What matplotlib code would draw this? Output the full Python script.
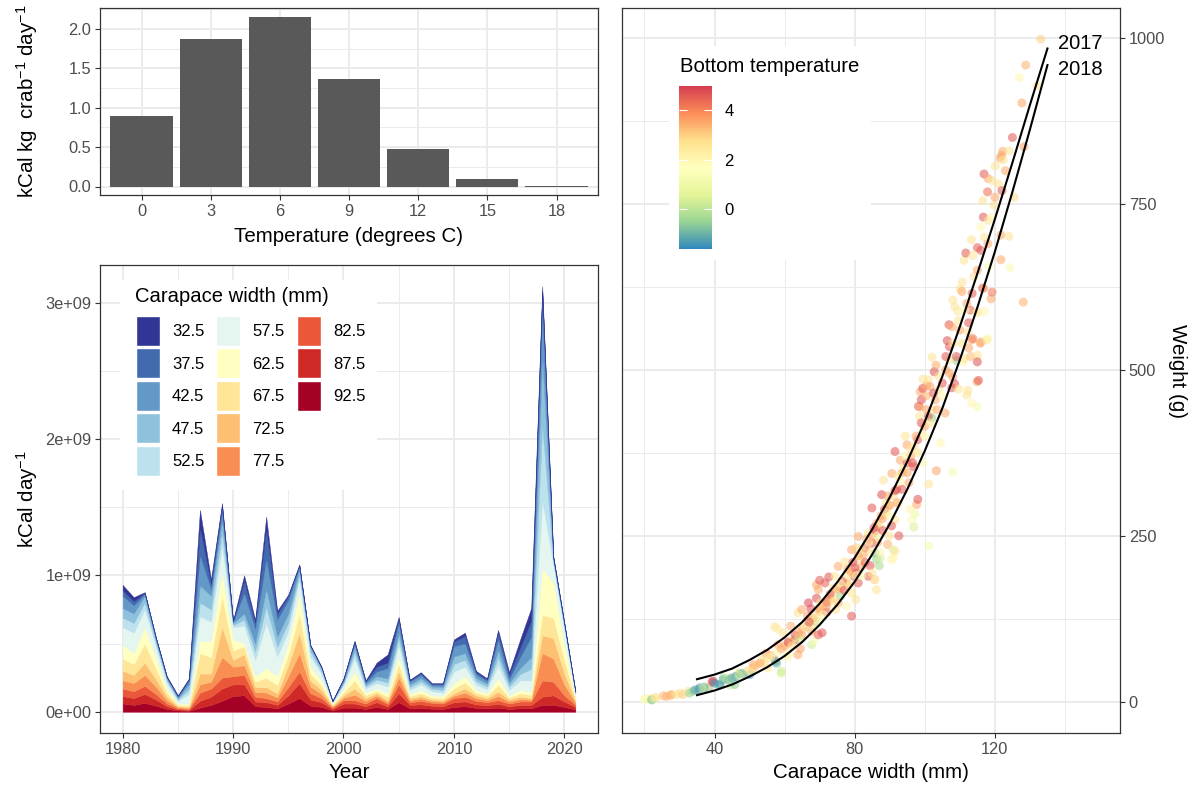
import numpy as np
import matplotlib
matplotlib.use("Agg")
import matplotlib.pyplot as plt
from matplotlib.colors import LinearSegmentedColormap, Normalize
from matplotlib.cm import ScalarMappable
from matplotlib.patches import Patch, Rectangle

plt.rcParams['font.family'] = ['Liberation Sans', 'DejaVu Sans']
plt.rcParams['mathtext.fontset'] = 'custom'
plt.rcParams['mathtext.rm'] = 'Liberation Sans'
plt.rcParams['mathtext.it'] = 'Liberation Sans:italic'
plt.rcParams['mathtext.bf'] = 'Liberation Sans:bold'

W, H = 1194, 787

# ---------------- data: energy per kg by temperature ----------------
temp_bins = [0, 3, 6, 9, 12, 15, 18]
kcal_per_kg = [0.90, 1.87, 2.15, 1.37, 0.48, 0.09, 0.01]

# ---------------- data: kCal/day by size class (units of 1e9) ----------------
years = list(range(1980, 2022))
size_labels = ['32.5', '37.5', '42.5', '47.5', '52.5', '57.5', '62.5',
               '67.5', '72.5', '77.5', '82.5', '87.5', '92.5']

kcal_925 = [.06, .05, .065, .045, .02, .009, .007, .03, .05, .08,
            .115, .12, .04, .035, .025, .06, .10, .045, .035, .01,
            .03, .03, .02, .035, .02, .07, .025, .028, .022, .02,
            .035, .04, .028, .025, .03, .02, .025, .025, .05, .05,
            .035, .017]
kcal_875 = [.055, .05, .065, .045, .02, .008, .007, .05, .06, .09,
            .085, .08, .035, .035, .025, .06, .11, .045, .035, .01,
            .03, .03, .02, .035, .018, .065, .025, .026, .022, .02,
            .035, .035, .026, .023, .028, .02, .025, .025, .06, .07,
            .04, .017]
kcal_825 = [.055, .05, .06, .04, .02, .008, .006, .06, .06, .08,
            .06, .07, .035, .03, .025, .06, .085, .045, .03, .01,
            .025, .025, .02, .03, .018, .065, .02, .026, .021, .02,
            .03, .035, .026, .022, .027, .02, .025, .025, .12, .10,
            .045, .016]
kcal_775 = [.06, .06, .08, .055, .025, .008, .008, .06, .05, .15,
            .07, .07, .035, .04, .03, .08, .135, .05, .03, .008,
            .018, .04, .02, .018, .015, .05, .015, .018, .013, .013,
            .018, .03, .02, .015, .031, .015, .018, .013, .20, .17,
            .08, .015]
kcal_725 = [.07, .06, .09, .055, .025, .007, .007, .08, .06, .22,
            .05, .08, .035, .04, .03, .08, .15, .045, .03, .007,
            .017, .045, .02, .017, .014, .045, .015, .017, .012, .012,
            .017, .03, .02, .015, .031, .015, .017, .012, .13, .15,
            .08, .015]
kcal_675 = [.09, .08, .14, .08, .03, .01, .012, .15, .12, .23,
            .07, .06, .04, .07, .06, .08, .14, .05, .035, .008,
            .022, .06, .02, .018, .025, .055, .015, .022, .015, .015,
            .037, .045, .02, .018, .049, .015, .025, .023, .15, .15,
            .10, .015]
kcal_625 = [.10, .08, .12, .08, .03, .01, .013, .09, .12, .17,
            .08, .02, .04, .07, .065, .08, .15, .05, .035, .007,
            .023, .065, .02, .017, .025, .055, .015, .023, .015, .015,
            .038, .045, .02, .017, .049, .015, .025, .024, .34, .26,
            .12, .015]
kcal_575 = [.13, .15, .13, .08, .04, .02, .07, .18, .14, .20,
            .09, .13, .12, .33, .145, .09, .10, .075, .05, .01,
            .03, .095, .03, .04, .05, .085, .03, .04, .03, .025,
            .085, .07, .04, .03, .095, .04, .07, .083, .50, .13,
            .10, .02]
kcal_525 = [.07, .07, .05, .025, .018, .01, .035, .10, .09, .09,
            .015, .045, .06, .12, .07, .065, .035, .035, .02, .003,
            .013, .04, .015, .025, .03, .045, .02, .022, .018, .02,
            .055, .05, .025, .02, .055, .025, .045, .085, .55, .02,
            .02, .008]
kcal_475 = [.07, .07, .05, .025, .017, .01, .035, .125, .10, .09,
            .015, .045, .06, .13, .075, .065, .035, .03, .02, .003,
            .012, .04, .015, .025, .03, .045, .02, .023, .017, .02,
            .055, .05, .025, .02, .055, .025, .045, .085, .50, .02,
            .02, .007]
kcal_425 = [.09, .06, .015, .01, .007, .01, .025, .225, .05, .07,
            .01, .15, .11, .22, .125, .10, .025, .012, .005, .002,
            .015, .03, .015, .035, .075, .07, .02, .025, .013, .015,
            .075, .07, .025, .02, .08, .03, .08, .15, .35, .01,
            .005, .003]
kcal_375 = [.04, .03, .007, .005, .004, .006, .013, .20, .04, .04,
            .005, .09, .045, .22, .045, .03, .01, .005, .003, .001,
            .007, .013, .01, .035, .04, .03, .01, .013, .007, .009,
            .035, .055, .015, .013, .05, .03, .07, .12, .13, .006,
            .003, .001]
kcal_325 = [.04, .03, .005, .005, .004, .004, .007, .13, .03, .02,
            .005, .04, .02, .09, .02, .01, .005, .003, .002, .001,
            .003, .007, .005, .03, .06, .015, .005, .007, .005, .006,
            .015, .025, .01, .007, .02, .02, .06, .09, .04, .004,
            .002, .001]

# ---------------- data: crab weight vs carapace width ----------------
carapace_mm = [
    20.0, 20.1, 21.1, 22.0, 22.2, 22.9, 23.3, 25.4, 26.3, 27.5,
    27.7, 29.1, 30.2, 31.0, 32.5, 32.9, 33.9, 35.5, 35.8, 38.2,
    38.2, 39.3, 39.6, 41.4, 41.5, 42.5, 42.5, 43.9, 44.6, 45.8,
    46.8, 47.3, 50.1, 51.0, 51.1, 53.4, 54.2, 54.7, 55.3, 57.2,
    57.2, 57.4, 57.9, 57.7, 58.2, 59.0, 59.1, 59.5, 60.6, 61.1,
    61.1, 61.7, 62.9, 63.8, 63.8, 64.5, 64.3, 64.9, 64.9, 66.3,
    66.5, 66.8, 67.5, 67.7, 67.7, 68.4, 68.6, 69.1, 69.1, 69.6,
    69.6, 69.6, 70.0, 70.2, 70.7, 71.5, 72.6, 72.5, 73.9, 74.4,
    74.5, 75.3, 75.3, 77.2, 77.7, 77.7, 79.1, 79.1, 79.1, 80.5,
    79.8, 80.3, 80.6, 81.0, 81.0, 82.0, 83.9, 83.9, 84.4, 84.9,
    84.9, 84.9, 85.7, 85.8, 85.8, 86.2, 86.2, 86.3, 87.0, 87.2,
    87.3, 87.7, 88.2, 89.4, 89.6, 89.9, 90.6, 90.6, 91.0, 91.0,
    91.5, 91.5, 91.5, 92.5, 92.6, 93.0, 94.4, 94.9, 95.8, 96.3,
    96.8, 97.2, 96.9, 97.7, 98.0, 98.2, 98.5, 98.6, 98.7, 99.4,
    99.0, 99.5, 100.5, 100.5, 101.0, 101.1, 101.1, 101.5, 102.0, 102.1,
    102.7, 103.2, 103.3, 105.8, 106.4, 107.0, 106.9, 107.7, 107.7, 108.0,
    108.0, 108.0, 108.6, 108.5, 109.1, 109.4, 109.6, 109.6, 110.1, 110.6,
    110.7, 111.0, 111.2, 111.2, 111.7, 112.0, 112.3, 112.3, 112.5, 112.5,
    113.0, 113.1, 113.3, 113.4, 113.4, 113.7, 113.7, 114.9, 114.9, 114.9,
    115.0, 115.0, 115.0, 115.0, 115.3, 115.8, 116.0, 116.0, 116.5, 116.5,
    116.7, 116.8, 116.9, 117.1, 117.7, 117.9, 117.9, 118.1, 118.1, 118.3,
    118.9, 119.2, 119.2, 119.7, 120.1, 121.5, 121.7, 121.7, 121.9, 122.2,
    122.4, 124.0, 124.3, 125.5, 127.0, 127.7, 128.1, 128.3, 128.8, 132.0,
    133.1,
    60.0, 62.0, 63.0, 65.0, 66.0, 68.0, 70.0, 71.0, 72.0, 73.0,
    74.0, 76.0, 76.5, 78.0, 79.0, 80.0, 81.5, 82.5, 83.0, 84.0,
    85.0, 86.0, 87.0, 88.0, 88.5, 89.0, 90.0, 91.0, 92.0, 93.0,
    93.5, 94.0, 95.0, 96.0, 97.0, 98.0, 99.0, 100.0, 101.0, 102.0,
    103.0, 104.0, 105.0, 106.0, 107.0, 55.0, 56.0, 58.0, 52.0, 49.0,
    48.0, 46.0, 44.0, 40.0, 37.0, 36.5, 34.5, 104.5, 99.5, 95.5,
    90.5, 86.5, 82.0, 76.0, 72.0, 68.0, 64.0,
    45.0, 47.0, 50.0, 53.0, 56.0, 59.0, 61.0, 62.0, 64.0, 66.0,
    67.0, 69.0, 70.0, 71.0, 72.0, 73.0, 74.0, 75.0, 76.0, 77.0,
    78.0, 78.5, 79.5, 80.5, 81.0, 82.0, 83.0, 83.5, 84.5, 85.5,
    86.5, 87.5, 88.0, 89.0, 89.5, 90.0, 91.5, 92.0, 92.5, 93.5,
    94.5, 95.0, 96.0, 96.5, 97.5, 98.0, 99.0, 100.0, 100.5, 101.5,
    102.5, 103.5, 104.0, 105.0, 106.0, 107.0, 108.0, 109.0, 110.0, 110.5,
    111.5, 112.0, 113.5, 114.0, 115.0, 116.0, 117.0, 118.0, 119.0, 120.0,
    121.0, 122.0, 123.0, 124.0, 125.0]
weight_g = [
    4, 4, 5, 3, 3, 6, 6, 9, 8, 10,
    11, 11, 13, 11, 16, 13, 16, 18, 21, 20,
    23, 30, 31, 25, 26, 33, 36, 36, 25, 26,
    43, 43, 41, 51, 56, 63, 58, 73, 51, 63,
    113, 61, 110, 58, 86, 43, 46, 104, 68, 88,
    71, 114, 93, 71, 134, 80, 98, 101, 139, 113,
    129, 149, 140, 106, 86, 92, 121, 176, 156, 121,
    101, 169, 183, 149, 104, 179, 188, 154, 171, 189,
    139, 204, 149, 211, 179, 144, 229, 164, 129, 232,
    189, 154, 194, 249, 179, 204, 254, 189, 205, 292,
    239, 194, 184, 224, 184, 215, 169, 269, 205, 216,
    225, 312, 334, 237, 294, 250, 344, 214, 229, 217,
    377, 274, 227, 299, 250, 364, 400, 387, 290, 274,
    354, 283, 263, 297, 305, 445, 430, 444, 467, 472,
    455, 486, 476, 461, 485, 235, 328, 475, 428, 519,
    497, 507, 348, 435, 544, 535, 568, 473, 565, 346,
    489, 605, 595, 479, 514, 588, 574, 471, 622, 618,
    632, 512, 517, 665, 676, 462, 557, 469, 571, 533,
    590, 520, 696, 450, 545, 547, 672, 444, 586, 482,
    684, 587, 522, 512, 484, 540, 715, 542, 755, 623,
    730, 623, 795, 588, 545, 768, 547, 788, 725, 656,
    607, 785, 617, 748, 807, 819, 703, 666, 823, 829,
    816, 701, 654, 760, 940, 902, 602, 836, 959, 928,
    998,
    84, 92, 100, 110, 118, 126, 136, 142, 150, 155,
    162, 172, 182, 190, 196, 202, 214, 222, 232, 240,
    250, 258, 266, 276, 290, 300, 296, 310, 320, 330,
    345, 352, 360, 370, 385, 395, 405, 415, 430, 440,
    455, 470, 480, 500, 515, 66, 70, 76, 55, 46,
    42, 38, 33, 28, 22, 20, 18, 390, 360, 330,
    265, 240, 190, 160, 135, 115, 96,
    36, 40, 47, 58, 68, 80, 90, 84, 104, 112,
    120, 128, 140, 131, 145, 162, 152, 170, 178, 168,
    200, 176, 210, 190, 220, 230, 210, 245, 226, 262,
    250, 280, 258, 285, 310, 280, 318, 300, 340, 320,
    370, 345, 380, 360, 400, 375, 420, 400, 440, 420,
    465, 440, 490, 460, 520, 495, 540, 520, 560, 540,
    590, 600, 615, 640, 650, 680, 700, 690, 730, 760,
    780, 770, 800, 830, 850]
bottom_temp = [
    1.3, 1.5, 2.0, -0.6, -0.4, 2.5, 2.6, 3.3, 3.4, 3.5,
    3.2, 2.6, 2.7, 3.0, 2.6, -0.5, -0.6, -1.3, -1.4, -1.2,
    2.5, 4.6, 4.8, -0.5, -1.3, -1.2, -0.5, 0.3, 0.3, -0.6,
    2.6, -0.5, -1.3, 3.4, 3.5, 2.6, 2.6, 3.6, 2.5, 3.4,
    2.6, -1.2, 2.3, -1.0, 3.5, 0.4, 0.3, 2.6, 2.0, 3.5,
    2.0, 3.4, 4.6, 3.5, 2.6, 3.6, 2.0, 3.5, 3.5, 4.6,
    3.6, 4.8, 4.7, 3.4, 0.3, 1.3, -0.5, 3.5, 4.7, 2.0,
    4.5, 3.5, 4.6, 2.6, 4.6, 4.5, 4.7, 2.6, 2.6, 2.5,
    2.6, 3.5, 3.4, 2.6, 3.5, 2.0, 3.6, 2.6, 4.6, 3.0,
    4.6, 2.6, 4.5, 3.5, 4.6, 3.5, 2.6, 4.5, 4.6, 4.6,
    4.7, 2.6, 3.5, -0.6, 2.0, -0.5, 2.6, 3.5, -0.3, 0.3,
    2.0, 4.7, 2.6, 3.4, 2.6, 2.6, 3.5, 2.0, 0.4, 2.0,
    4.6, 2.6, 2.6, 2.0, 4.6, 3.5, 2.6, 3.5, 2.0, 1.3,
    4.6, 1.0, 0.4, 3.5, 4.7, 4.6, 2.6, 3.5, 3.5, 4.6,
    4.7, 2.6, 3.5, 3.4, 2.6, 1.3, 2.6, 3.5, -0.5, 2.6,
    4.7, 3.5, 3.6, 3.5, 4.7, 4.6, 4.6, 4.6, 3.5, 1.3,
    3.6, 2.6, 2.6, 4.6, -0.5, 2.4, 2.6, 2.6, 2.6, 3.5,
    2.6, 2.0, 2.6, 2.6, 4.6, 2.6, 2.6, 2.6, 4.6, 3.5,
    4.5, 3.3, 2.6, 2.0, 3.5, 4.2, 2.6, 1.3, 2.0, 3.5,
    4.5, 2.6, 2.6, 4.7, 4.6, 3.5, 2.0, 3.5, 2.6, 4.6,
    4.6, 3.5, 4.6, 2.0, 2.6, 4.3, 2.0, 3.5, 2.6, 1.3,
    3.5, 2.6, 4.2, 2.6, 2.6, 3.5, 3.5, 3.5, 3.6, 3.5,
    2.6, 2.6, 1.3, 2.8, 2.0, 3.5, 3.4, 3.6, 3.4, 2.6,
    3.0,
    3.5, 2.6, 4.6, 3.5, 2.6, 3.4, 3.5, 2.6, 4.6, 3.5,
    2.6, 3.5, 4.6, 2.6, 3.5, 4.6, 2.6, 3.5, 4.7, 2.0,
    3.5, 4.6, 2.6, 3.5, 4.6, 2.6, 3.6, 2.6, 4.6, 2.0,
    3.5, 2.6, 4.6, 3.5, 2.6, 4.6, 2.0, 3.5, 4.6, 2.6,
    3.5, 2.6, 4.6, 3.5, 2.6, 2.6, 3.5, 2.0, 3.0, 2.6,
    -1.0, -1.3, -0.8, -1.4, -1.0, 0.2, -1.2, 2.0, 1.3, 3.5,
    4.6, 3.5, 1.3, -0.4, 4.6, 2.6, 0.3,
    -1.0, 0.3, 2.6, 3.5, 2.0, 3.5, 4.6, 2.6, 3.5, 2.0,
    4.6, 2.6, 3.5, 2.0, 3.6, 4.6, 2.6, 3.5, 2.0, 4.6,
    3.5, 2.6, 4.6, 2.0, 3.5, 2.6, 4.6, 3.5, 2.6, 4.6,
    2.0, 3.5, 4.6, 2.6, 3.5, 2.0, 4.6, 3.5, 2.6, 4.6,
    2.0, 3.5, 2.6, 4.6, 3.5, 2.6, 4.6, 2.0, 3.5, 2.6,
    4.6, 3.5, 2.6, 2.0, 4.6, 3.5, 2.6, 4.6, 3.5, 2.6,
    2.0, 3.5, 4.6, 2.6, 3.5, 4.6, 2.6, 3.5, 2.0, 3.5,
    2.6, 4.6, 3.5, 2.6, 4.6]

# fitted length-weight curves
line_cw = [35, 40, 45, 50, 55, 60, 65, 70, 75, 80, 85,
           90, 95, 100, 105, 110, 115, 120, 125, 130, 135]
weight_2017 = [34, 41, 50, 63, 78, 97, 120, 148, 180, 217, 260,
               308, 362, 422, 490, 565, 645, 727, 812, 899, 984]
weight_2018 = [10, 17, 26, 38, 52, 69, 90, 116, 146, 181, 222,
               268, 320, 378, 442, 515, 594, 678, 768, 862, 959]


def px_box(l, t, r, b):
    return [l / W, 1 - b / H, (r - l) / W, (b - t) / H]


def to_axes(box, x, y):
    l, t, r, b = box
    return (x - l) / (r - l), (b - y) / (b - t)


def style(ax):
    for s in ax.spines.values():
        s.set_color('#333333')
        s.set_linewidth(0.9)
    ax.grid(which='major', color='#ebebeb', lw=1.4)
    ax.grid(which='minor', color='#ebebeb', lw=0.7)
    ax.set_axisbelow(True)
    ax.tick_params(which='major', length=3.3, width=0.8, color='#333333',
                   labelcolor='#4d4d4d', labelsize=11.8, pad=3)
    ax.tick_params(which='minor', length=0)


fig = plt.figure(figsize=(W / 100, H / 100), dpi=100)

# ---- top left: bar chart ----
box1 = (100, 8, 598, 195)
ax1 = fig.add_axes(px_box(*box1))
style(ax1)
ax1.bar(temp_bins, kcal_per_kg, width=2.7, color='#595959', zorder=2)
ax1.set_xlim(-1.8, 19.8)
ax1.set_ylim(-0.108, 2.268)
ax1.set_xticks(temp_bins)
ax1.set_yticks([0, 0.5, 1.0, 1.5, 2.0])
ax1.set_yticklabels(['0.0', '0.5', '1.0', '1.5', '2.0'])
ax1.set_yticks([0.25, 0.75, 1.25, 1.75, 2.25], minor=True)

# ---- bottom left: stacked area ----
box2 = (100, 265, 598, 733)
ax2 = fig.add_axes(px_box(*box2))
style(ax2)
layers = [kcal_925, kcal_875, kcal_825, kcal_775, kcal_725, kcal_675, kcal_625,
          kcal_575, kcal_525, kcal_475, kcal_425, kcal_375, kcal_325]
layer_cols = [plt.cm.RdYlBu(i / 12) for i in range(13)]
base = np.zeros(len(years))
for vals, col in zip(layers, layer_cols):
    top = base + np.array(vals) * 1e9
    ax2.fill_between(years, base, top, facecolor=col, edgecolor=col, lw=0.3, zorder=2)
    base = top
ax2.set_xlim(1977.95, 2023.05)
ax2.set_ylim(-0.156e9, 3.276e9)
ax2.set_xticks([1980, 1990, 2000, 2010, 2020])
ax2.set_xticks([1985, 1995, 2005, 2015], minor=True)
ax2.set_yticks([0, 1e9, 2e9, 3e9])
ax2.set_yticklabels(['0e+00', '1e+09', '2e+09', '3e+09'])
ax2.set_yticks([0.5e9, 1.5e9, 2.5e9], minor=True)

# legend for size classes
x0, y0 = to_axes(box2, 120, 490)
x1, y1 = to_axes(box2, 377, 280)
ax2.add_patch(Rectangle((x0, y0), x1 - x0, y1 - y0, transform=ax2.transAxes,
                        facecolor='white', edgecolor='none', zorder=1))
tx, ty = to_axes(box2, 135, 296.5)
ax2.text(tx, ty, 'Carapace width (mm)', transform=ax2.transAxes,
         fontsize=14.6, ha='left', va='center', zorder=5)
handles = [Patch(facecolor=plt.cm.RdYlBu(1 - i / 12), edgecolor='white', lw=1)
           for i in range(13)]
labels = list(size_labels)
handles += [Patch(facecolor='none', edgecolor='none')] * 2
labels += ['', '']
lx, ly = to_axes(box2, 136, 316)
ax2.legend(handles, labels, ncol=3, loc='upper left', bbox_to_anchor=(lx, ly),
           frameon=False, fontsize=12, borderpad=0, borderaxespad=0,
           handlelength=1.44, handleheight=2.39, labelspacing=0.15,
           handletextpad=0.72, columnspacing=0.72)

# ---- right: length-weight scatter ----
box3 = (622, 8, 1120, 733)
ax3 = fig.add_axes(px_box(*box3))
style(ax3)
spectral7 = ['#3288bd', '#99d594', '#e6f598', '#ffffbf', '#fee08b', '#fc8d59', '#d53e4f']
cmap = LinearSegmentedColormap.from_list('spec7', spectral7)
norm = Normalize(vmin=-1.6, vmax=4.97)
ax3.scatter(carapace_mm, weight_g, c=bottom_temp, cmap=cmap, norm=norm,
            s=42, alpha=0.55, edgecolors='none', zorder=2)
ax3.plot(line_cw, weight_2017, color='black', lw=1.5, zorder=3)
ax3.plot(line_cw, weight_2018, color='black', lw=1.5, zorder=3)
ax3.text(138.0, 991, '2017', fontsize=14.5, ha='left', va='center')
ax3.text(138.0, 952, '2018', fontsize=14.5, ha='left', va='center')
ax3.set_xlim(13.6, 155.7)
ax3.set_ylim(-47, 1045)
ax3.set_xticks([40, 80, 120])
ax3.set_xticks([20, 60, 100, 140], minor=True)
ax3.set_yticks([0, 250, 500, 750, 1000])
ax3.set_yticks([125, 375, 625, 875], minor=True)
ax3.yaxis.tick_right()

x0, y0 = to_axes(box3, 669, 260)
x1, y1 = to_axes(box3, 871, 46)
ax3.add_patch(Rectangle((x0, y0), x1 - x0, y1 - y0, transform=ax3.transAxes,
                        facecolor='white', edgecolor='none', zorder=1))
tx, ty = to_axes(box3, 680, 67)
ax3.text(tx, ty, 'Bottom temperature', transform=ax3.transAxes,
         fontsize=14.6, ha='left', va='center')

cax = fig.add_axes(px_box(679, 86, 712, 249))
cbar = fig.colorbar(ScalarMappable(norm=norm, cmap=cmap), cax=cax, ticks=[0, 2, 4])
cbar.outline.set_visible(False)
cax.tick_params(axis='y', direction='in', length=6, width=0.8, color='white',
                labelcolor='black', labelsize=12, pad=9, left=True, right=True)

# ---- axis titles ----
fig.text(349 / W, 1 - 237 / H, 'Temperature (degrees C)', fontsize=14.8,
         ha='center', va='center')
fig.text(349 / W, 1 - 772 / H, 'Year', fontsize=14.8, ha='center', va='center')
fig.text(871 / W, 1 - 772 / H, 'Carapace width (mm)', fontsize=14.8,
         ha='center', va='center')
fig.text(27 / W, 1 - 101.5 / H, r'kCal kg  crab$^{-1}$ day$^{-1}$', fontsize=14.8,
         rotation=90, ha='center', va='center')
fig.text(27 / W, 1 - 499 / H, r'kCal day$^{-1}$', fontsize=14.8,
         rotation=90, ha='center', va='center')
fig.text(1178 / W, 1 - 370.5 / H, 'Weight (g)', fontsize=14.8,
         rotation=270, ha='center', va='center')

fig.savefig('out.png', dpi=100)
